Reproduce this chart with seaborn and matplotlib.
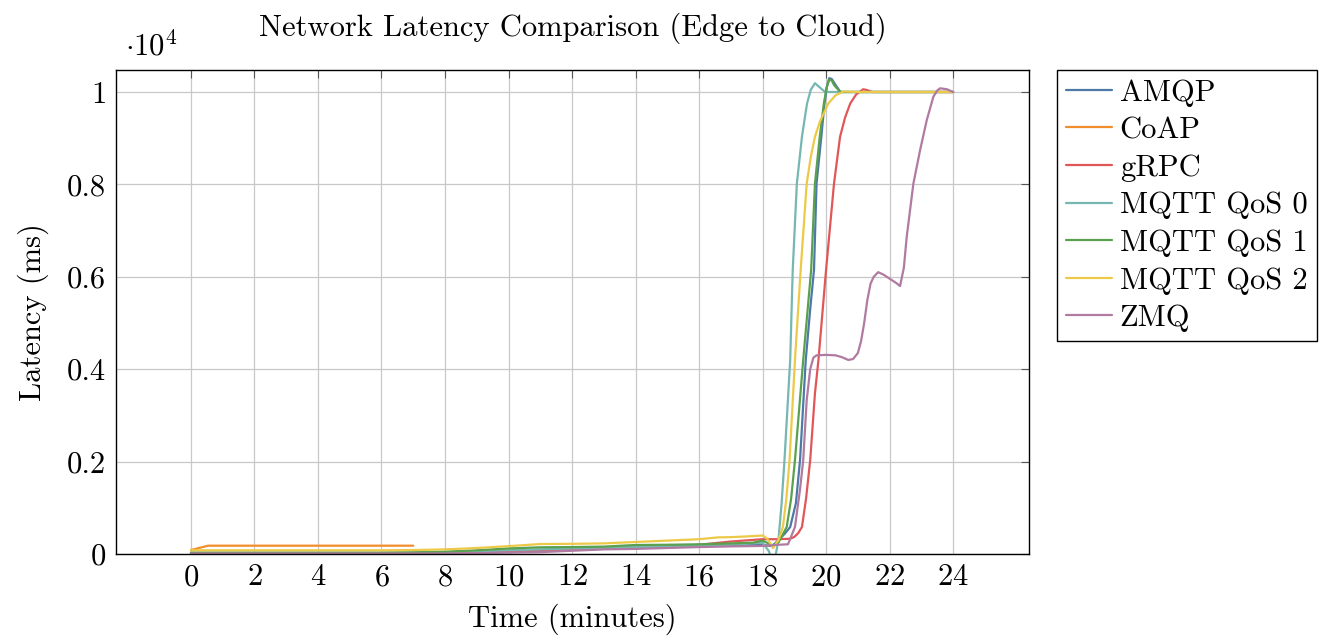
import matplotlib
matplotlib.use("Agg")
import matplotlib.pyplot as plt
import matplotlib.ticker as mticker
from matplotlib.lines import Line2D
import seaborn as sns
import pandas as pd

# ---------------- data ----------------
protocols = ["AMQP", "CoAP", "gRPC", "MQTT QoS 0", "MQTT QoS 1", "MQTT QoS 2", "ZMQ"]

amqp_t = [0, 2, 4, 6, 8, 9, 10, 11, 12, 13, 14, 15, 16, 17, 18, 18.3, 18.5, 18.7, 18.87,
          19.05, 19.18, 19.36, 19.5, 19.62, 19.7, 19.85, 19.95, 20.02, 20.1, 20.18, 20.3,
          20.45, 21, 22, 23, 24]
amqp_v = [20, 20, 20, 20, 30, 50, 70, 90, 110, 130, 150, 160, 170, 180, 200, 170, 300, 440, 584,
          1100, 2030, 4200, 5300, 6150, 8020, 9030, 9750, 10100, 10300, 10280, 10150,
          10000, 10000, 10000, 10000, 10000]

coap_t = [0, 0.54, 1, 2, 3, 4, 5, 6, 7]
coap_v = [85, 180, 180, 180, 180, 180, 180, 180, 180]

grpc_t = [0, 2, 4, 6, 8, 9, 10, 11, 12, 13, 14, 15, 16, 17, 18, 18.5, 18.87, 19.0, 19.12,
          19.24, 19.37, 19.5, 19.65, 19.76, 20.0, 20.25, 20.44, 20.6, 20.76, 20.95, 21.17,
          21.3, 21.45, 22, 23, 24]
grpc_v = [15, 15, 15, 15, 15, 30, 50, 70, 90, 110, 130, 150, 200, 270, 320, 320, 330, 370, 450,
          584, 1200, 2030, 3480, 4200, 6150, 8020, 9030, 9450, 9750, 9950, 10060,
          10040, 10000, 10000, 10000, 10000]

mqtt0_t = [0, 2, 4, 6, 8, 9, 10, 11, 12, 13, 14, 15, 16, 17, 18, 18.2, 18.35, 18.5,
           18.6, 18.69, 18.87, 18.95, 19.08, 19.24, 19.4, 19.52, 19.65, 19.8, 19.97,
           21, 22, 23, 24]
mqtt0_v = [25, 25, 25, 25, 40, 60, 80, 100, 120, 130, 150, 160, 180, 200, 245, 60, -250, 300,
           1100, 2030, 4200, 6150, 8020, 9030, 9750, 10050, 10190, 10100, 10000,
           10000, 10000, 10000, 10000]

mqtt1_t = [0, 2, 4, 6, 7, 8, 9, 10, 11, 12, 13, 14, 15, 16, 17, 17.7, 18, 18.3, 18.5,
           18.76, 18.9, 19.02, 19.28, 19.53, 19.65, 19.8, 19.93, 20.02, 20.1, 20.18, 20.25,
           20.45, 21, 22, 23, 24]
mqtt1_v = [30, 30, 30, 30, 35, 50, 80, 120, 145, 150, 160, 195, 200, 210, 230, 245, 290, 190, 250,
           584, 1200, 2030, 4200, 6150, 8020, 9030, 9750, 10100, 10270, 10250, 10150,
           10000, 10000, 10000, 10000, 10000]

mqtt2_t = [0, 2, 4, 6, 7, 8, 9, 10, 11, 12, 13, 14, 15, 16, 16.6, 17, 17.5, 18, 18.15,
           18.33, 18.5, 18.64, 18.75, 18.85, 19.02, 19.2, 19.39, 19.52, 19.65, 19.8, 20.07,
           20.3, 20.55, 21, 22, 23, 24]
mqtt2_v = [80, 80, 80, 80, 85, 100, 130, 170, 216, 220, 230, 260, 290, 320, 360, 365, 380, 400, 330,
           130, 300, 584, 1200, 2030, 4200, 6150, 8020, 8600, 9030, 9350, 9750,
           9930, 10010, 10000, 10000, 10000, 10000]

zmq_t = [0, 2, 4, 6, 8, 9, 10, 11, 12, 13, 14, 15, 16, 17, 18, 18.5, 18.8, 19.02, 19.18,
         19.28, 19.39, 19.5, 19.6, 19.7, 20.0, 20.3, 20.5, 20.7, 20.85, 21.0, 21.1, 21.2,
         21.3, 21.4, 21.5, 21.64, 21.8, 22.0, 22.2, 22.33, 22.45, 22.54, 22.75, 22.96, 23.17,
         23.38, 23.5, 23.59, 23.8, 24]
zmq_v = [10, 10, 10, 10, 10, 20, 30, 40, 70, 100, 110, 130, 150, 165, 175, 200, 210, 584, 1400,
         2030, 3330, 4000, 4250, 4300, 4310, 4300, 4260, 4200, 4220, 4350, 4600, 5000,
         5500, 5850, 6000, 6100, 6050, 5960, 5870, 5800, 6200, 6870, 8020, 8740, 9390,
         9900, 10030, 10080, 10060, 10000]

colors = ["#4e79a7", "#f28e2b", "#e15759", "#76b7b2", "#59a14f", "#edc948", "#b07aa1"]

x_ticks = [0, 2, 4, 6, 8, 10, 12, 14, 16, 18, 20, 22, 24]
y_ticks = [0, 2000, 4000, 6000, 8000, 10000]

# ---------------- build long table ----------------
series = {
    "AMQP": (amqp_t, amqp_v),
    "CoAP": (coap_t, coap_v),
    "gRPC": (grpc_t, grpc_v),
    "MQTT QoS 0": (mqtt0_t, mqtt0_v),
    "MQTT QoS 1": (mqtt1_t, mqtt1_v),
    "MQTT QoS 2": (mqtt2_t, mqtt2_v),
    "ZMQ": (zmq_t, zmq_v),
}
rows = []
for name, (ts, vs) in series.items():
    for t, v in zip(ts, vs):
        rows.append({"protocol": name, "time": t, "latency": v})
df = pd.DataFrame(rows)

# ---------------- style ----------------
sns.set_theme(style="white")
plt.rcParams["font.family"] = ["cmr10", "DejaVu Serif"]
plt.rcParams["mathtext.fontset"] = "cm"
plt.rcParams["axes.unicode_minus"] = False
plt.rcParams["axes.formatter.use_mathtext"] = True
plt.rcParams["text.color"] = "black"
plt.rcParams["axes.labelcolor"] = "black"
plt.rcParams["xtick.labelcolor"] = "black"
plt.rcParams["ytick.labelcolor"] = "black"

FS = 22

fig = plt.figure(figsize=(13.31, 6.37), dpi=100)
ax = fig.add_axes([116 / 1331, 1 - 554 / 637, (1029 - 116) / 1331, (554 - 70) / 637])

palette = dict(zip(protocols, colors))
for name in protocols:
    sub = df[df["protocol"] == name]
    sns.lineplot(data=sub, x="time", y="latency", color=palette[name], lw=1.6,
                 estimator=None, sort=False, ax=ax, legend=False)

ax.set_xlim(-2.36, 26.39)
ax.set_ylim(0, 10476)
ax.set_xticks(x_ticks)
ax.set_yticks(y_ticks)
ax.yaxis.set_major_formatter(mticker.FuncFormatter(lambda v, p: "%g" % (v / 10000)))
ax.grid(True, color="#c8c8c8", lw=0.9)
ax.set_axisbelow(True)
ax.tick_params(direction="in", length=6, width=0.8, color="#555555",
               top=True, right=True, labelsize=FS, pad=7)
for s in ax.spines.values():
    s.set_color("black")
    s.set_linewidth(1.0)

ax.set_xlabel("Time (minutes)", fontsize=FS, labelpad=9)
ax.set_ylabel("Latency (ms)", fontsize=FS, labelpad=13)
ax.set_title("Network Latency Comparison (Edge to Cloud)", fontsize=FS, pad=25)
ax.text(0.01, 1.018, r"$\cdot 10^{4}$", transform=ax.transAxes, fontsize=FS,
        ha="left", va="bottom")

handles = [Line2D([0], [0], color=c, lw=1.6) for c in colors]
leg = fig.legend(handles, protocols, loc="upper left",
                 bbox_to_anchor=(1057 / 1331, 1 - 70 / 637), fontsize=FS,
                 frameon=True, fancybox=False, edgecolor="black", framealpha=1,
                 borderaxespad=0, handlelength=1.5, handletextpad=0.25,
                 labelspacing=0.33, borderpad=0.3)
leg.get_frame().set_linewidth(1.0)

fig.savefig("out.png", dpi=100)
